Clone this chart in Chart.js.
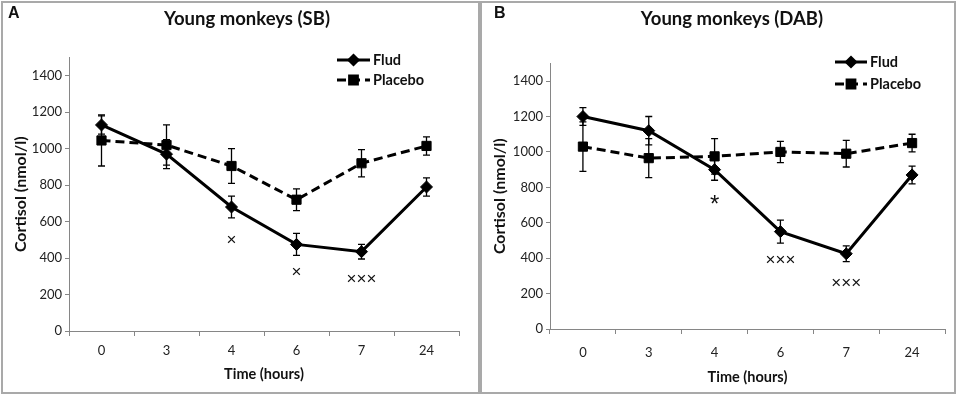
<!DOCTYPE html>
<html>
<head>
<meta charset="utf-8">
<script src="https://cdn.jsdelivr.net/npm/chart.js"></script>
<style>
body { margin: 0; background: #fff; width: 957px; height: 397px; position: relative; overflow: hidden; }
.panel { position: absolute; box-sizing: border-box; border: 2px solid #a9a9a9; background: #fff; }
#panelA { left: 1px; top: 1px; width: 479px; height: 393px; }
#panelB { left: 480px; top: 1px; width: 476px; height: 393px; }
canvas { display: block; }
</style>
</head>
<body>
<div class="panel" id="panelA"><canvas id="chartA" width="475" height="389"></canvas></div>
<div class="panel" id="panelB"><canvas id="chartB" width="472" height="389"></canvas></div>
<script>
// time points (hours)
var hours = ['0', '3', '4', '6', '7', '24'];

// panel A - young monkeys (SB)
var fludA = [1130, 970, 680, 475, 435, 790];
var fludErrA = [50, 80, 60, 60, 40, 50];
var placeboA = [1045, 1020, 905, 720, 920, 1015];
var placeboErrA = [140, 110, 95, 60, 75, 50];
var marksA = ['', '', '×', '×', '×××', ''];
var marksYA = [null, null, 500, 320, 285, null];

// panel B - young monkeys (DAB)
var fludB = [1200, 1120, 900, 550, 425, 870];
var fludErrB = [50, 80, 60, 65, 45, 50];
var placeboB = [1030, 965, 975, 1000, 990, 1050];
var placeboErrB = [140, 110, 100, 60, 75, 50];
var marksB = ['', '', '*', '×××', '×××', ''];
var marksYB = [null, null, 720, 390, 260, null];

var axisGray = '#868686';
var fontFam = 'Lato, "Open Sans", sans-serif';

// error bars
var errorBars = {
    id: 'errorBars',
    afterDatasetsDraw: function(chart) {
        var ctx = chart.ctx;
        var y = chart.scales.y;
        ctx.save();
        ctx.strokeStyle = '#000';
        ctx.lineWidth = 1.3;
        chart.data.datasets.forEach(function(ds, i) {
            var meta = chart.getDatasetMeta(i);
            ds.errors.forEach(function(e, j) {
                var x = meta.data[j].x;
                var top = y.getPixelForValue(ds.data[j] + e);
                var bot = y.getPixelForValue(ds.data[j] - e);
                ctx.beginPath();
                ctx.moveTo(x, top); ctx.lineTo(x, bot);
                ctx.moveTo(x - 3.5, top); ctx.lineTo(x + 3.5, top);
                ctx.moveTo(x - 3.5, bot); ctx.lineTo(x + 3.5, bot);
                ctx.stroke();
            });
        });
        ctx.restore();
    }
};

// title, panel letter, legend and significance marks
var decor = {
    id: 'decor',
    afterDraw: function(chart, args, o) {
        var ctx = chart.ctx;
        ctx.save();
        ctx.fillStyle = '#111';
        ctx.textBaseline = 'middle';

        ctx.textAlign = 'center';
        ctx.font = 'bold 18.5px ' + fontFam;
        ctx.fillText(o.title, o.titleX, o.titleY);

        ctx.textAlign = 'left';
        ctx.font = 'bold 16px Arial, "Liberation Sans", sans-serif';
        ctx.fillText(o.letter, o.letterX - 5, o.letterY);

        // legend
        chart.data.datasets.forEach(function(ds, i) {
            var ly = o.legY + i * o.legGap;
            ctx.strokeStyle = '#000';
            ctx.lineWidth = 3;
            ctx.setLineDash(ds.borderDash || []);
            ctx.beginPath();
            ctx.moveTo(o.legX, ly);
            ctx.lineTo(o.legX + o.legLen, ly);
            ctx.stroke();
            ctx.setLineDash([]);
            Chart.helpers.drawPoint(ctx, {
                pointStyle: ds.pointStyle,
                radius: ds.pointStyle === 'rect' ? 5.5 : 4.5,
                rotation: 0,
                borderWidth: 1
            }, o.legX + o.legLen / 2, ly);
            ctx.fillStyle = '#000';
            ctx.fill();
            ctx.fillStyle = '#111';
            ctx.font = 'bold 14.5px ' + fontFam;
            ctx.fillText(ds.label, o.legX + o.legLen + 3, ly);
        });

        // significance marks
        var xs = chart.scales.x, ys = chart.scales.y;
        ctx.textAlign = 'center';
        o.marks.forEach(function(m, j) {
            if (!m) return;
            var px = xs.getPixelForValue(j);
            var py = ys.getPixelForValue(o.marksY[j]);
            if (m === '*') {
                ctx.font = '24px "Liberation Sans", sans-serif';
                ctx.fillText(m, px, py + 4);
            } else {
                ctx.font = '17px "Liberation Sans", sans-serif';
                ctx.fillText(m, px, py);
            }
        });
        ctx.restore();
    }
};

function makeConfig(p) {
    return {
        type: 'line',
        data: {
            labels: hours,
            datasets: [{
                label: 'Flud',
                data: p.flud,
                errors: p.fludErr,
                borderColor: '#000',
                backgroundColor: '#000',
                borderWidth: 3,
                pointStyle: 'rectRot',
                pointRadius: 6,
                pointBorderWidth: 1,
                pointBackgroundColor: '#000',
                pointBorderColor: '#000',
                tension: 0
            }, {
                label: 'Placebo',
                data: p.placebo,
                errors: p.placeboErr,
                borderColor: '#000',
                backgroundColor: '#000',
                borderWidth: 3,
                borderDash: [9, 5],
                pointStyle: 'rect',
                pointRadius: 6.5,
                pointBorderWidth: 1,
                pointBackgroundColor: '#000',
                pointBorderColor: '#000',
                tension: 0
            }]
        },
        options: {
            responsive: false,
            animation: false,
            layout: { padding: { left: 0, right: p.padRight, top: p.padTop, bottom: 0 } },
            plugins: {
                legend: { display: false },
                tooltip: { enabled: false },
                decor: p.decor
            },
            scales: {
                x: {
                    type: 'category',
                    offset: true,
                    grid: { offset: true, drawOnChartArea: false, tickLength: 5, color: axisGray },
                    border: { color: axisGray, width: 1 },
                    ticks: { padding: p.xTickPad, color: '#222', maxRotation: 0, font: { family: fontFam, size: 13 } },
                    title: {
                        display: true, text: 'Time (hours)', color: '#111',
                        font: { family: fontFam, size: 14.5, weight: 'bold' },
                        padding: { top: 0, bottom: p.xTitlePad }
                    },
                    afterFit: function(s) { s.height = p.xHeight; }
                },
                y: {
                    min: 0,
                    max: 1500,
                    grid: { drawOnChartArea: false, tickLength: 4, color: axisGray },
                    border: { color: axisGray, width: 1 },
                    ticks: {
                        stepSize: 200, includeBounds: false, padding: 3, color: '#222',
                        font: { family: fontFam, size: 13 },
                        callback: function(v) { return String(v); }
                    },
                    title: {
                        display: true, text: 'Cortisol (nmol/l)', color: '#111',
                        font: { family: fontFam, size: 16, weight: 'bold' },
                        padding: { top: 8, bottom: 0 }
                    },
                    afterFit: function(s) { s.width = p.yWidth; }
                }
            }
        },
        plugins: [errorBars, decor]
    };
}

var chartA = new Chart(document.getElementById('chartA'), makeConfig({
    flud: fludA, fludErr: fludErrA, placebo: placeboA, placeboErr: placeboErrA,
    padRight: 19, padTop: 54.5, yWidth: 66, xHeight: 61, xTickPad: 7, xTitlePad: 9,
    decor: {
        title: 'Young monkeys (SB)', titleX: 244, titleY: 16,
        letter: 'A', letterX: 10, letterY: 11,
        legX: 334, legY: 57, legGap: 20, legLen: 33,
        marks: marksA, marksY: marksYA
    }
}));

var chartB = new Chart(document.getElementById('chartB'), makeConfig({
    flud: fludB, fludErr: fludErrB, placebo: placeboB, placeboErr: placeboErrB,
    padRight: 9, padTop: 60.4, yWidth: 68, xHeight: 63, xTickPad: 11, xTitlePad: 6,
    decor: {
        title: 'Young monkeys (DAB)', titleX: 250, titleY: 16,
        letter: 'B', letterX: 17, letterY: 11,
        legX: 353, legY: 59, legGap: 22, legLen: 32,
        marks: marksB, marksY: marksYB
    }
}));
</script>
</body>
</html>
